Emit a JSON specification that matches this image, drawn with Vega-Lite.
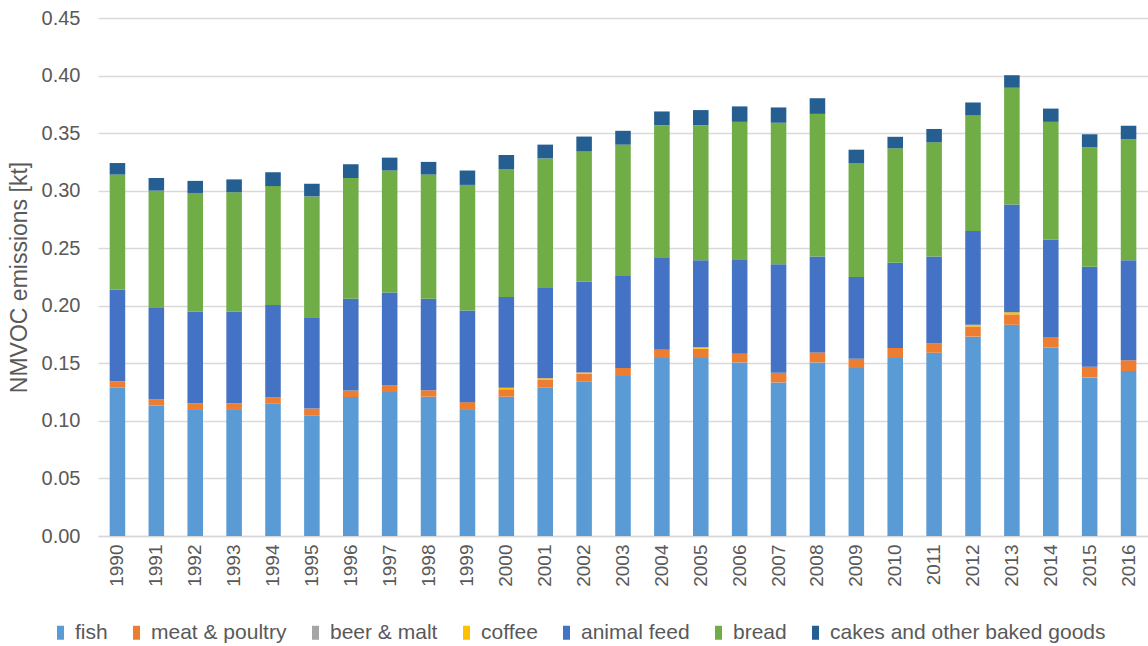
{
  "$schema": "https://vega.github.io/schema/vega-lite/v6.json",
  "autosize": "none",
  "width": 1050,
  "height": 518,
  "padding": {"left": 98, "top": 18, "right": 0, "bottom": 110},
  "background": "white",
  "config": {
    "font": "Liberation Sans",
    "view": {"stroke": null}
  },
  "data": {
    "values": [
      {"year": "1990", "fish": 0.1288, "meat & poultry": 0.0056, "beer & malt": 0, "coffee": 0, "animal feed": 0.0796, "bread": 0.1000, "cakes and other baked goods": 0.0100},
      {"year": "1991", "fish": 0.1132, "meat & poultry": 0.0056, "beer & malt": 0, "coffee": 0, "animal feed": 0.0792, "bread": 0.1020, "cakes and other baked goods": 0.0110},
      {"year": "1992", "fish": 0.1095, "meat & poultry": 0.0055, "beer & malt": 0, "coffee": 0, "animal feed": 0.0800, "bread": 0.1030, "cakes and other baked goods": 0.0105},
      {"year": "1993", "fish": 0.1095, "meat & poultry": 0.0055, "beer & malt": 0, "coffee": 0, "animal feed": 0.0800, "bread": 0.1036, "cakes and other baked goods": 0.0112},
      {"year": "1994", "fish": 0.1154, "meat & poultry": 0.0053, "beer & malt": 0, "coffee": 0, "animal feed": 0.0799, "bread": 0.1034, "cakes and other baked goods": 0.0120},
      {"year": "1995", "fish": 0.1050, "meat & poultry": 0.0057, "beer & malt": 0, "coffee": 0, "animal feed": 0.0793, "bread": 0.1050, "cakes and other baked goods": 0.0110},
      {"year": "1996", "fish": 0.1207, "meat & poultry": 0.0056, "beer & malt": 0, "coffee": 0, "animal feed": 0.0797, "bread": 0.1050, "cakes and other baked goods": 0.0120},
      {"year": "1997", "fish": 0.1250, "meat & poultry": 0.0060, "beer & malt": 0, "coffee": 0, "animal feed": 0.0805, "bread": 0.1060, "cakes and other baked goods": 0.0112},
      {"year": "1998", "fish": 0.1210, "meat & poultry": 0.0056, "beer & malt": 0, "coffee": 0, "animal feed": 0.0794, "bread": 0.1080, "cakes and other baked goods": 0.0110},
      {"year": "1999", "fish": 0.1095, "meat & poultry": 0.0068, "beer & malt": 0, "coffee": 0, "animal feed": 0.0797, "bread": 0.1090, "cakes and other baked goods": 0.0125},
      {"year": "2000", "fish": 0.1210, "meat & poultry": 0.0065, "beer & malt": 0, "coffee": 0.0013, "animal feed": 0.0789, "bread": 0.1111, "cakes and other baked goods": 0.0122},
      {"year": "2001", "fish": 0.1288, "meat & poultry": 0.0072, "beer & malt": 0, "coffee": 0.0010, "animal feed": 0.0790, "bread": 0.1120, "cakes and other baked goods": 0.0120},
      {"year": "2002", "fish": 0.1340, "meat & poultry": 0.0070, "beer & malt": 0, "coffee": 0.0010, "animal feed": 0.0790, "bread": 0.1130, "cakes and other baked goods": 0.0130},
      {"year": "2003", "fish": 0.1390, "meat & poultry": 0.0070, "beer & malt": 0, "coffee": 0, "animal feed": 0.0798, "bread": 0.1142, "cakes and other baked goods": 0.0120},
      {"year": "2004", "fish": 0.1546, "meat & poultry": 0.0071, "beer & malt": 0, "coffee": 0, "animal feed": 0.0799, "bread": 0.1151, "cakes and other baked goods": 0.0121},
      {"year": "2005", "fish": 0.1546, "meat & poultry": 0.0081, "beer & malt": 0, "coffee": 0.0013, "animal feed": 0.0755, "bread": 0.1172, "cakes and other baked goods": 0.0133},
      {"year": "2006", "fish": 0.1508, "meat & poultry": 0.0075, "beer & malt": 0, "coffee": 0, "animal feed": 0.0821, "bread": 0.1194, "cakes and other baked goods": 0.0134},
      {"year": "2007", "fish": 0.1334, "meat & poultry": 0.0084, "beer & malt": 0, "coffee": 0, "animal feed": 0.0942, "bread": 0.1230, "cakes and other baked goods": 0.0133},
      {"year": "2008", "fish": 0.1508, "meat & poultry": 0.0087, "beer & malt": 0, "coffee": 0, "animal feed": 0.0834, "bread": 0.1238, "cakes and other baked goods": 0.0136},
      {"year": "2009", "fish": 0.1459, "meat & poultry": 0.0081, "beer & malt": 0, "coffee": 0, "animal feed": 0.0709, "bread": 0.0991, "cakes and other baked goods": 0.0116},
      {"year": "2010", "fish": 0.1546, "meat & poultry": 0.0087, "beer & malt": 0, "coffee": 0, "animal feed": 0.0740, "bread": 0.0995, "cakes and other baked goods": 0.0100},
      {"year": "2011", "fish": 0.1592, "meat & poultry": 0.0084, "beer & malt": 0, "coffee": 0, "animal feed": 0.0753, "bread": 0.0991, "cakes and other baked goods": 0.0116},
      {"year": "2012", "fish": 0.1732, "meat & poultry": 0.0088, "beer & malt": 0, "coffee": 0.0015, "animal feed": 0.0815, "bread": 0.1007, "cakes and other baked goods": 0.0109},
      {"year": "2013", "fish": 0.1835, "meat & poultry": 0.0090, "beer & malt": 0, "coffee": 0.0019, "animal feed": 0.0936, "bread": 0.1014, "cakes and other baked goods": 0.0109},
      {"year": "2014", "fish": 0.1636, "meat & poultry": 0.0093, "beer & malt": 0, "coffee": 0, "animal feed": 0.0846, "bread": 0.1023, "cakes and other baked goods": 0.0115},
      {"year": "2015", "fish": 0.1378, "meat & poultry": 0.0093, "beer & malt": 0, "coffee": 0, "animal feed": 0.0868, "bread": 0.1038, "cakes and other baked goods": 0.0113},
      {"year": "2016", "fish": 0.1434, "meat & poultry": 0.0093, "beer & malt": 0, "coffee": 0, "animal feed": 0.0868, "bread": 0.1051, "cakes and other baked goods": 0.0118}
    ]
  },
  "transform": [
    {"fold": ["fish", "meat & poultry", "beer & malt", "coffee", "animal feed", "bread", "cakes and other baked goods"], "as": ["source", "value"]},
    {"window": [{"op": "row_number", "as": "k"}], "groupby": ["year"]}
  ],
  "mark": {"type": "bar"},
  "encoding": {
    "x": {
      "field": "year",
      "type": "ordinal",
      "scale": {"paddingInner": 0.6, "paddingOuter": 0.3},
      "axis": {
        "title": null,
        "labelAngle": -90,
        "labelAlign": "right",
        "labelBaseline": "middle",
        "labelFontSize": 19,
        "labelColor": "#595959",
        "labelPadding": 8,
        "ticks": false,
        "domainColor": "#d9d9d9",
        "domainWidth": 1.5
      }
    },
    "y": {
      "field": "value",
      "type": "quantitative",
      "stack": "zero",
      "scale": {"domain": [0, 0.45], "nice": false},
      "axis": {
        "title": "NMVOC emissions [kt]",
        "titleFontSize": 23,
        "titleFontWeight": "normal",
        "titleColor": "#595959",
        "titlePadding": 10,
        "values": [0, 0.05, 0.1, 0.15, 0.2, 0.25, 0.3, 0.35, 0.4, 0.45],
        "format": ".2f",
        "labelFontSize": 20,
        "labelColor": "#595959",
        "labelPadding": 18,
        "ticks": false,
        "domain": false,
        "gridColor": "#d9d9d9",
        "gridWidth": 1.5
      }
    },
    "order": {"field": "k", "type": "quantitative", "sort": "ascending"},
    "color": {
      "field": "source",
      "type": "nominal",
      "sort": ["fish", "meat & poultry", "beer & malt", "coffee", "animal feed", "bread", "cakes and other baked goods"],
      "scale": {
        "domain": ["fish", "meat & poultry", "beer & malt", "coffee", "animal feed", "bread", "cakes and other baked goods"],
        "range": ["#5b9bd5", "#ed7d31", "#a5a5a5", "#ffc000", "#4472c4", "#70ad47", "#255e91"]
      },
      "legend": {
        "title": null,
        "orient": "none",
        "direction": "horizontal",
        "legendX": -48,
        "legendY": 604,
        "symbolType": "M-0.5,-1H0.5V1H-0.5Z",
        "symbolSize": 196,
        "symbolStrokeWidth": 0,
        "labelFontSize": 21,
        "labelLimit": 0,
        "labelColor": "#595959",
        "labelOffset": 4,
        "columnPadding": 18
      }
    }
  }
}
